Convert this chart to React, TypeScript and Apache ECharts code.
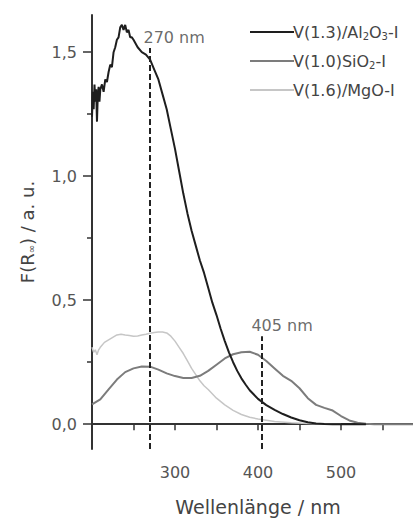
import React, { useEffect, useRef } from "react";
import * as echarts from "echarts";

// ---- data ----
const alWl = [200,201,202,203,204,205,206,207,208,209,210,212,214,216,218,220,222,224,226,228,230,232,234,236,238,240,242,244,246,248,250,255,260,265,270,275,280,285,290,295,300,305,310,315,320,325,330,335,340,345,350,355,360,365,370,375,380,385,390,400,410,420,430,440,450,460,470,480,490,500,530];
const alVal = [1.24,1.34,1.27,1.37,1.30,1.35,1.22,1.33,1.36,1.30,1.35,1.37,1.34,1.39,1.38,1.42,1.45,1.44,1.50,1.52,1.55,1.56,1.60,1.61,1.59,1.61,1.58,1.59,1.56,1.56,1.55,1.52,1.50,1.49,1.47,1.43,1.39,1.33,1.27,1.19,1.11,1.02,0.93,0.85,0.78,0.72,0.66,0.61,0.55,0.49,0.44,0.385,0.335,0.29,0.25,0.215,0.185,0.16,0.137,0.102,0.077,0.058,0.041,0.027,0.016,0.008,0.003,0.001,0,0,0];

const siWl = [200,210,220,230,240,250,260,270,280,290,300,310,320,330,340,350,360,370,380,390,400,410,420,430,440,450,460,470,480,490,500,510,520,530,540,560,580,600];
const siVal = [0.08,0.10,0.14,0.18,0.21,0.225,0.233,0.232,0.22,0.205,0.194,0.186,0.186,0.195,0.215,0.24,0.265,0.282,0.29,0.292,0.28,0.255,0.225,0.195,0.175,0.145,0.105,0.078,0.066,0.055,0.033,0.015,0.006,0.002,0,0,0,0];

const mgWl = [200,202,204,206,208,210,215,220,225,230,235,240,245,250,255,260,265,270,275,280,285,290,295,300,305,310,315,320,325,330,335,340,350,360,370,380,390,400,420,440,460,480,500];
const mgVal = [0.31,0.29,0.30,0.28,0.30,0.31,0.33,0.34,0.35,0.36,0.363,0.36,0.358,0.355,0.356,0.36,0.363,0.367,0.37,0.372,0.372,0.368,0.355,0.335,0.31,0.285,0.255,0.225,0.2,0.175,0.155,0.14,0.105,0.078,0.056,0.039,0.028,0.021,0.011,0.006,0.003,0.001,0];

const seriesNames = ["Al", "Si", "Mg"];
const legendLabels = ["V(1.3)/Al{s|2}O{s|3}-I", "V(1.0)SiO{s|2}-I", "V(1.6)/MgO-I"];
const seriesColors = ["#1e1e1e", "#7c7c7c", "#c6c6c6"];

const peakWl = [270, 405];
const peakTop = [1.517, 0.355];
const peakLabelPos = [[299, 1.561], [429, 0.40]];
const peakLabels = ["270 nm", "405 nm"];

const yMajor = [0, 0.5, 1, 1.5];
const yMinor = [0.25, 0.75, 1.25];

const pairs = (xs: number[], ys: number[]) => xs.map((x, i) => [x, ys[i]]);

export default function App() {
  const ref = useRef<HTMLDivElement>(null);
  useEffect(() => {
    if (!ref.current) return;
    const chart = echarts.init(ref.current, undefined, { renderer: "svg" });
    const font = "DejaVu Sans";
    const legendMap: Record<string, string> = {};
    seriesNames.forEach((n, i) => (legendMap[n] = legendLabels[i]));
    const yMin = -0.1;
    const yMax = 1.65;
    chart.setOption({
      animation: false,
      backgroundColor: "#ffffff",
      textStyle: { fontFamily: font },
      grid: { left: 92, top: 15, width: 332, height: 437 },
      legend: {
        data: seriesNames,
        orient: "vertical",
        left: 245,
        top: 19,
        itemWidth: 44,
        itemHeight: 2,
        itemGap: 12,
        icon: "rect",
        formatter: (n: string) => legendMap[n],
        textStyle: {
          fontFamily: font,
          fontSize: 16,
          color: "#444",
          padding: [0, 0, 0, -6],
          rich: { s: { fontFamily: font, fontSize: 10, color: "#444", padding: [8, 0, 0, 0] } },
        },
      },
      xAxis: [
        {
          type: "value",
          min: 200,
          max: 600,
          interval: 50,
          position: "bottom",
          axisLine: { show: true, lineStyle: { color: "#333", width: 2 } },
          axisTick: { show: true, length: 6, lineStyle: { color: "#333", width: 1.5 } },
          axisLabel: {
            margin: 15,
            fontFamily: font,
            fontSize: 16,
            color: "#555",
            formatter: (v: number) => (v % 100 === 0 && v > 200 && v < 600 ? String(v) : ""),
          },
          splitLine: { show: false },
          name: "Wellenlänge / nm",
          nameLocation: "middle",
          nameGap: 48,
          nameTextStyle: { fontFamily: font, fontSize: 19, color: "#444" },
        },
        {
          type: "value",
          min: 200,
          max: 600,
          position: "top",
          axisLine: { show: true, lineStyle: { color: "#333", width: 2 } },
          axisTick: { show: false },
          axisLabel: { show: false },
          splitLine: { show: false },
        },
      ],
      yAxis: [
        {
          type: "value",
          min: yMin,
          max: yMax,
          position: "left",
          axisLine: { show: true, lineStyle: { color: "#333", width: 2 } },
          axisTick: { show: true, length: 9, customValues: yMajor, lineStyle: { color: "#333", width: 1.5 } },
          axisLabel: {
            customValues: yMajor,
            margin: 15,
            fontFamily: font,
            fontSize: 16,
            color: "#555",
            formatter: (v: number) => v.toFixed(1).replace(".", ","),
          },
          splitLine: { show: false },
          name: "F(R{s|∞}) / a. u.",
          nameLocation: "middle",
          nameGap: 56,
          nameRotate: 90,
          nameTextStyle: {
            fontFamily: font,
            fontSize: 18,
            color: "#444",
            rich: { s: { fontFamily: font, fontSize: 10, color: "#444", padding: [8, 0, 0, 0] } },
          },
        },
        {
          type: "value",
          min: yMin,
          max: yMax,
          position: "left",
          axisLine: { show: false },
          axisTick: { show: true, length: 5, customValues: yMinor, lineStyle: { color: "#333", width: 1.5 } },
          axisLabel: { show: false },
          splitLine: { show: false },
        },
      ],
      series: [
        {
          name: "Mg",
          type: "line",
          data: pairs(mgWl, mgVal),
          showSymbol: false,
          symbol: "none",
          color: seriesColors[2],
          lineStyle: { color: seriesColors[2], width: 1.5 },
          z: 2,
        },
        {
          name: "Si",
          type: "line",
          data: pairs(siWl, siVal),
          showSymbol: false,
          symbol: "none",
          color: seriesColors[1],
          lineStyle: { color: seriesColors[1], width: 2 },
          z: 3,
        },
        {
          name: "Al",
          type: "line",
          data: pairs(alWl, alVal),
          showSymbol: false,
          symbol: "none",
          color: seriesColors[0],
          lineStyle: { color: seriesColors[0], width: 2 },
          z: 4,
          markLine: {
            silent: true,
            symbol: ["none", "none"],
            label: { show: false },
            lineStyle: { color: "#222", width: 2, type: [6, 3] },
            data: peakWl.map((w, i) => [{ coord: [w, yMin] }, { coord: [w, peakTop[i]] }]),
          },
        },
        {
          name: "labels",
          type: "scatter",
          symbolSize: 0,
          data: peakLabelPos.map((p, i) => [p[0], p[1], peakLabels[i]]),
          label: {
            show: true,
            position: "inside",
            fontFamily: font,
            fontSize: 16,
            color: "#444",
            formatter: (p: any) => p.data[2],
          },
          z: 5,
        },
      ],
    });
    return () => chart.dispose();
  }, []);
  return (
    <div style={{ position: "fixed", left: 0, top: 0, width: 413, height: 521, overflow: "hidden", background: "#fff" }}>
      <div ref={ref} style={{ width: 440, height: 521 }} />
    </div>
  );
}
